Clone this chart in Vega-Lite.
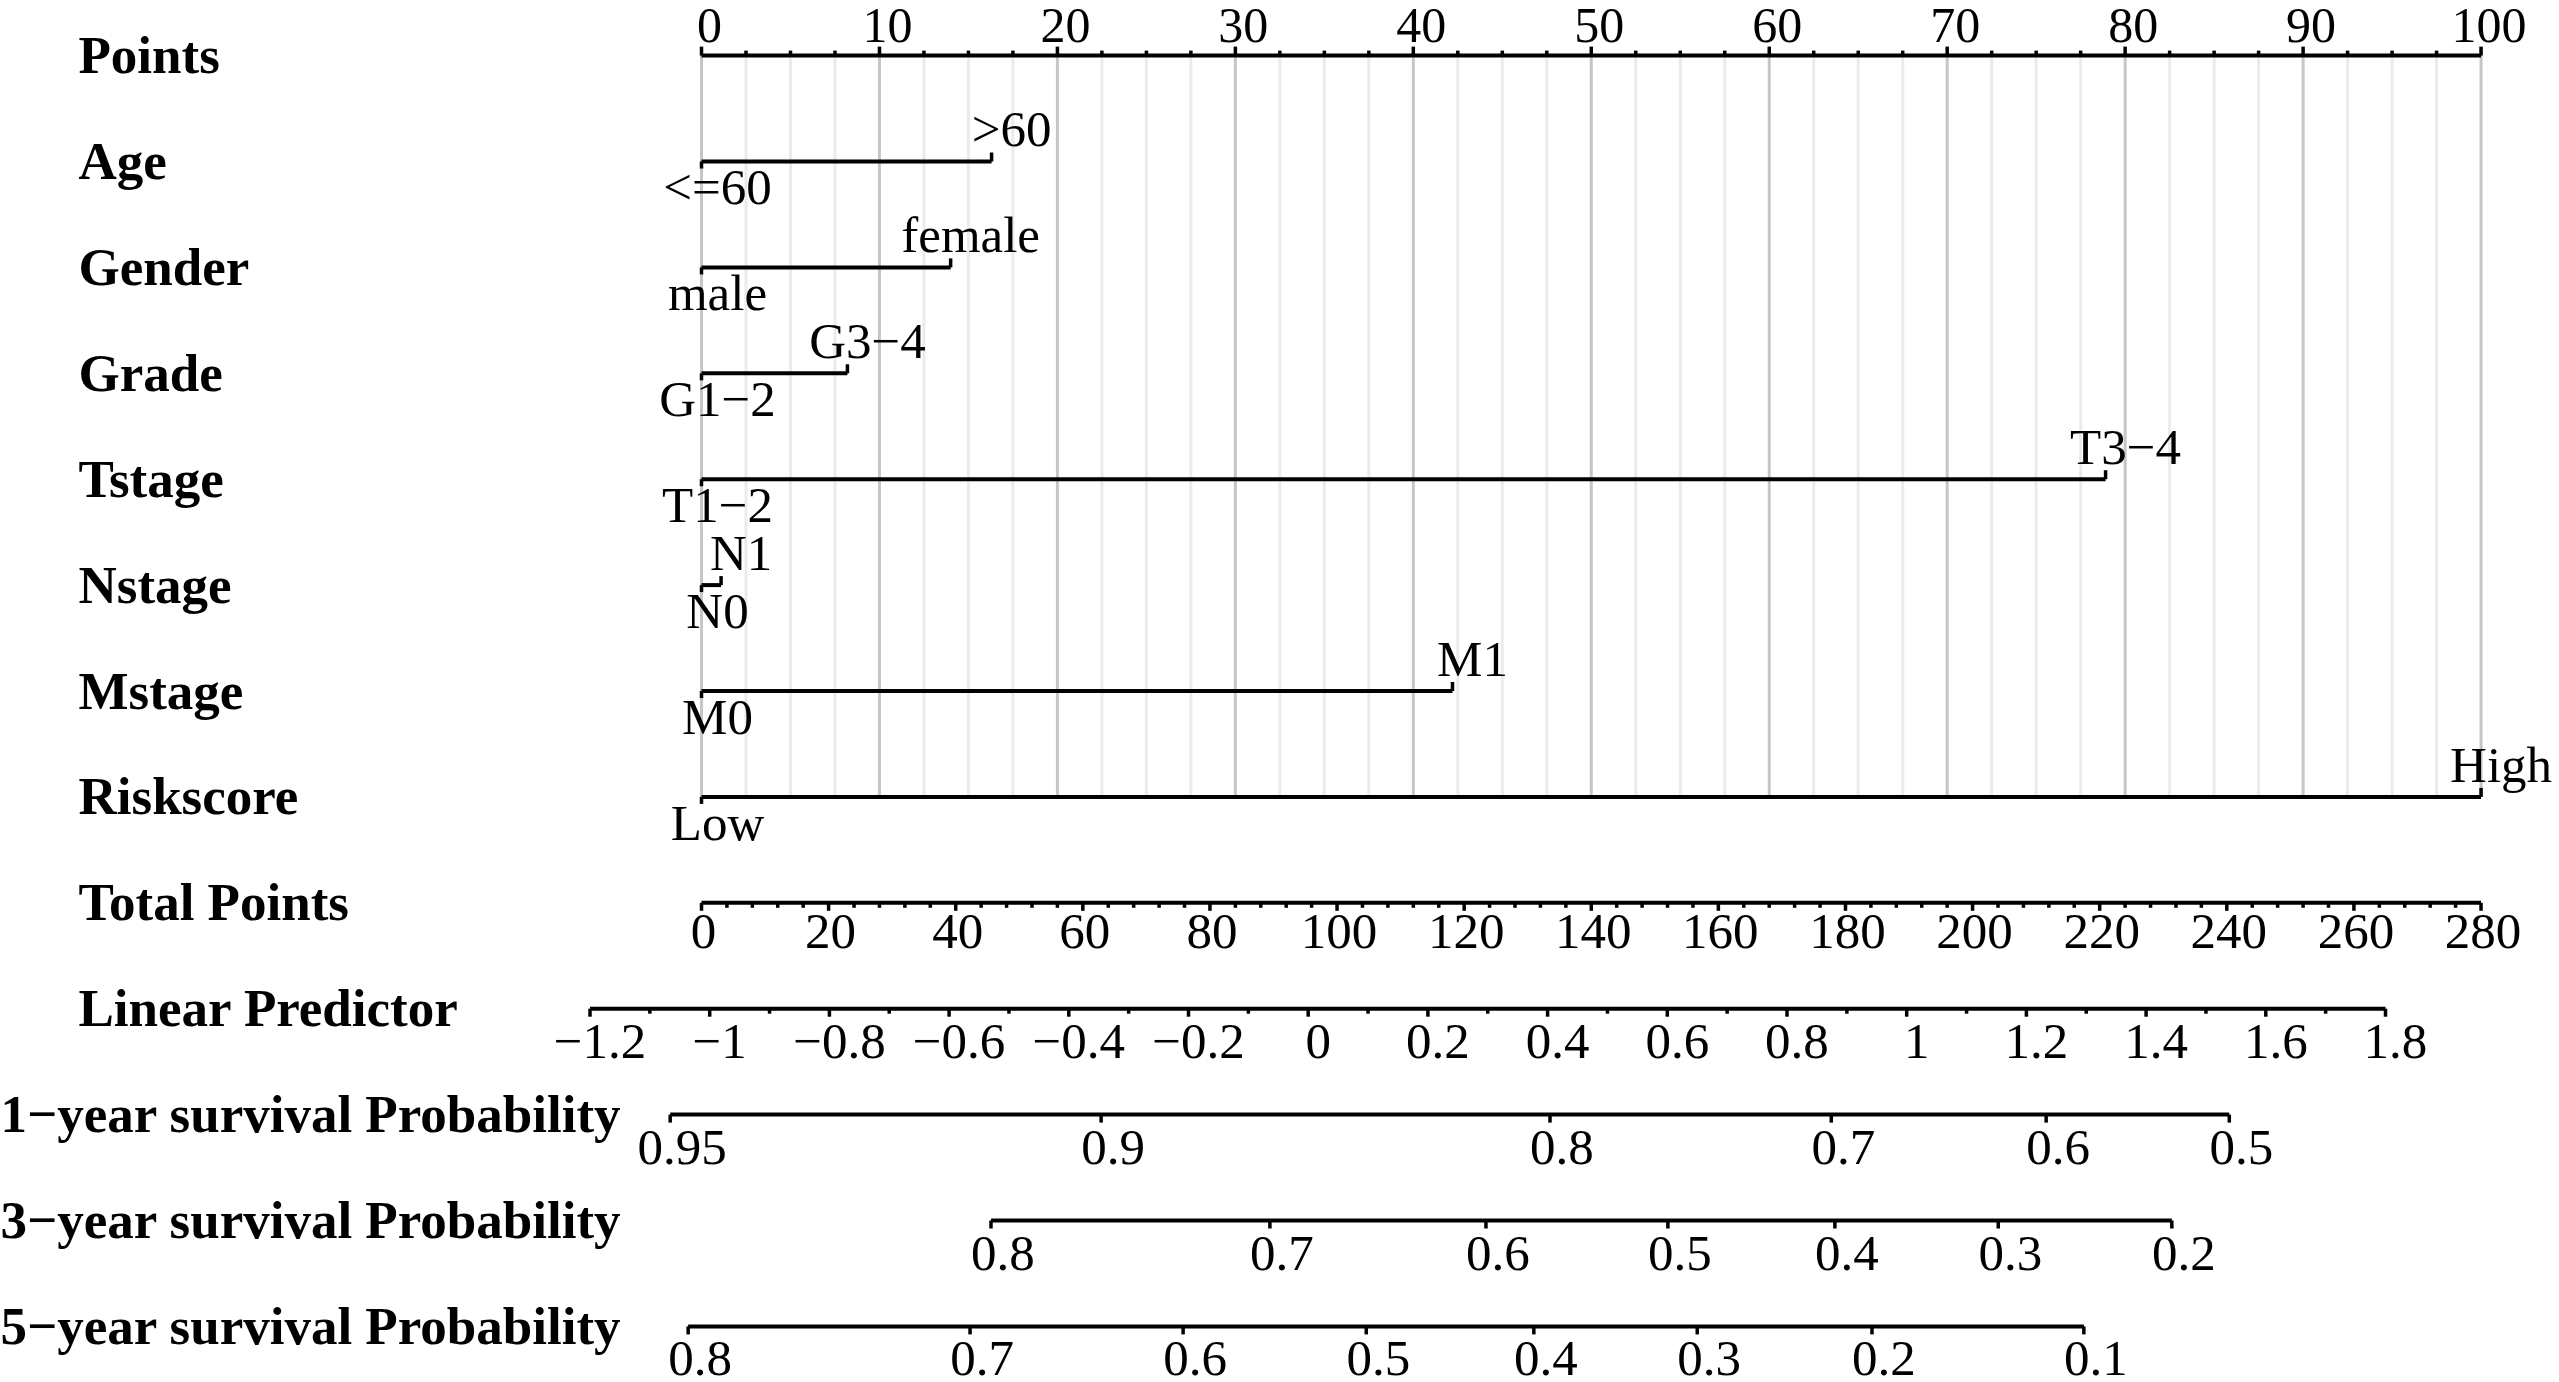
{
  "$schema": "https://vega.github.io/schema/vega-lite/v6.json",
  "width": 2559,
  "height": 1382,
  "autosize": {"type": "none"},
  "padding": 0,
  "background": "white",
  "config": {"view": {"stroke": null}, "font": "Liberation Serif"},
  "datasets": {
    "pointsTicks": [
      {"p": 0}, {"p": 2.5}, {"p": 5}, {"p": 7.5}, {"p": 10}, {"p": 12.5}, {"p": 15}, {"p": 17.5}, {"p": 20}, {"p": 22.5},
      {"p": 25}, {"p": 27.5}, {"p": 30}, {"p": 32.5}, {"p": 35}, {"p": 37.5}, {"p": 40}, {"p": 42.5}, {"p": 45}, {"p": 47.5},
      {"p": 50}, {"p": 52.5}, {"p": 55}, {"p": 57.5}, {"p": 60}, {"p": 62.5}, {"p": 65}, {"p": 67.5}, {"p": 70}, {"p": 72.5},
      {"p": 75}, {"p": 77.5}, {"p": 80}, {"p": 82.5}, {"p": 85}, {"p": 87.5}, {"p": 90}, {"p": 92.5}, {"p": 95}, {"p": 97.5},
      {"p": 100}
    ],
    "categories": [
      {"row": "Age", "level": "<=60", "pts": 0},
      {"row": "Age", "level": ">60", "pts": 16.3},
      {"row": "Gender", "level": "male", "pts": 0},
      {"row": "Gender", "level": "female", "pts": 14.0},
      {"row": "Grade", "level": "G1−2", "pts": 0},
      {"row": "Grade", "level": "G3−4", "pts": 8.2},
      {"row": "Tstage", "level": "T1−2", "pts": 0},
      {"row": "Tstage", "level": "T3−4", "pts": 78.9},
      {"row": "Nstage", "level": "N0", "pts": 0},
      {"row": "Nstage", "level": "N1", "pts": 1.1},
      {"row": "Mstage", "level": "M0", "pts": 0},
      {"row": "Mstage", "level": "M1", "pts": 42.2},
      {"row": "Riskscore", "level": "Low", "pts": 0},
      {"row": "Riskscore", "level": "High", "pts": 100}
    ],
    "tpTicks": [
      {"t": 0}, {"t": 4}, {"t": 8}, {"t": 12}, {"t": 16}, {"t": 20}, {"t": 24}, {"t": 28}, {"t": 32}, {"t": 36},
      {"t": 40}, {"t": 44}, {"t": 48}, {"t": 52}, {"t": 56}, {"t": 60}, {"t": 64}, {"t": 68}, {"t": 72}, {"t": 76},
      {"t": 80}, {"t": 84}, {"t": 88}, {"t": 92}, {"t": 96}, {"t": 100}, {"t": 104}, {"t": 108}, {"t": 112}, {"t": 116},
      {"t": 120}, {"t": 124}, {"t": 128}, {"t": 132}, {"t": 136}, {"t": 140}, {"t": 144}, {"t": 148}, {"t": 152}, {"t": 156},
      {"t": 160}, {"t": 164}, {"t": 168}, {"t": 172}, {"t": 176}, {"t": 180}, {"t": 184}, {"t": 188}, {"t": 192}, {"t": 196},
      {"t": 200}, {"t": 204}, {"t": 208}, {"t": 212}, {"t": 216}, {"t": 220}, {"t": 224}, {"t": 228}, {"t": 232}, {"t": 236},
      {"t": 240}, {"t": 244}, {"t": 248}, {"t": 252}, {"t": 256}, {"t": 260}, {"t": 264}, {"t": 268}, {"t": 272}, {"t": 276},
      {"t": 280}
    ],
    "lpTicks": [
      {"lp": -1.2}, {"lp": -1.1}, {"lp": -1}, {"lp": -0.9}, {"lp": -0.8}, {"lp": -0.7}, {"lp": -0.6}, {"lp": -0.5},
      {"lp": -0.4}, {"lp": -0.3}, {"lp": -0.2}, {"lp": -0.1}, {"lp": 0}, {"lp": 0.1}, {"lp": 0.2}, {"lp": 0.3},
      {"lp": 0.4}, {"lp": 0.5}, {"lp": 0.6}, {"lp": 0.7}, {"lp": 0.8}, {"lp": 0.9}, {"lp": 1}, {"lp": 1.1},
      {"lp": 1.2}, {"lp": 1.3}, {"lp": 1.4}, {"lp": 1.5}, {"lp": 1.6}, {"lp": 1.7}, {"lp": 1.8}
    ],
    "survival": [
      {"row": "1−year survival Probability", "prob": 0.95, "lp": -1.066},
      {"row": "1−year survival Probability", "prob": 0.9, "lp": -0.346},
      {"row": "1−year survival Probability", "prob": 0.8, "lp": 0.404},
      {"row": "1−year survival Probability", "prob": 0.7, "lp": 0.874},
      {"row": "1−year survival Probability", "prob": 0.6, "lp": 1.233},
      {"row": "1−year survival Probability", "prob": 0.5, "lp": 1.539},
      {"row": "3−year survival Probability", "prob": 0.8, "lp": -0.53},
      {"row": "3−year survival Probability", "prob": 0.7, "lp": -0.064},
      {"row": "3−year survival Probability", "prob": 0.6, "lp": 0.297},
      {"row": "3−year survival Probability", "prob": 0.5, "lp": 0.601},
      {"row": "3−year survival Probability", "prob": 0.4, "lp": 0.88},
      {"row": "3−year survival Probability", "prob": 0.3, "lp": 1.153},
      {"row": "3−year survival Probability", "prob": 0.2, "lp": 1.443},
      {"row": "5−year survival Probability", "prob": 0.8, "lp": -1.036},
      {"row": "5−year survival Probability", "prob": 0.7, "lp": -0.565},
      {"row": "5−year survival Probability", "prob": 0.6, "lp": -0.209},
      {"row": "5−year survival Probability", "prob": 0.5, "lp": 0.097},
      {"row": "5−year survival Probability", "prob": 0.4, "lp": 0.377},
      {"row": "5−year survival Probability", "prob": 0.3, "lp": 0.65},
      {"row": "5−year survival Probability", "prob": 0.2, "lp": 0.942},
      {"row": "5−year survival Probability", "prob": 0.1, "lp": 1.296}
    ]
  },
  "resolve": {"scale": {"x": "independent"}},
  "layer": [
    {
      "layer": [
        {
          "data": {"name": "pointsTicks"},
          "mark": {"type": "rule", "strokeWidth": 3},
          "encoding": {
            "x": {"field": "p", "type": "quantitative", "scale": {"domain": [-39.42, 104.38], "nice": false, "zero": false}, "axis": null},
            "y": {
              "datum": "Points", "type": "nominal",
              "scale": {"type": "point", "padding": 0.525, "domain": ["Points", "Age", "Gender", "Grade", "Tstage", "Nstage", "Mstage", "Riskscore", "Total Points", "Linear Predictor", "1−year survival Probability", "3−year survival Probability", "5−year survival Probability"]},
              "axis": {
                "orient": "left", "title": null, "domain": false, "ticks": false, "grid": false,
                "labelAlign": "left", "labelBaseline": "alphabetic", "labelOffset": 17,
                "labelFont": "Liberation Serif", "labelFontSize": 53, "labelFontWeight": "bold", "labelColor": "black",
                "labelLimit": 3000, "labelOverlap": false,
                "labelPadding": {"condition": {"test": "length(datum.label) > 20", "value": 0}, "value": -78}
              }
            },
            "y2": {"datum": "Riskscore"},
            "color": {"condition": {"test": "datum.p % 10 === 0", "value": "#c6c6c6"}, "value": "#ebebeb"}
          }
        },
        {
          "data": {"name": "pointsTicks"},
          "mark": {"type": "rule", "strokeWidth": 4, "color": "black"},
          "encoding": {
            "x": {"aggregate": "min", "field": "p", "type": "quantitative", "scale": {"domain": [-39.42, 104.38], "nice": false, "zero": false}, "axis": null},
            "x2": {"aggregate": "max", "field": "p"},
            "y": {"datum": "Points", "type": "nominal"}
          }
        },
        {
          "data": {"name": "pointsTicks"},
          "transform": [{"filter": "datum.p % 10 === 0"}],
          "mark": {"type": "tick", "orient": "vertical", "size": 9, "thickness": 3.5, "yOffset": -4.5, "color": "black", "opacity": 1},
          "encoding": {
            "x": {"field": "p", "type": "quantitative", "scale": {"domain": [-39.42, 104.38], "nice": false, "zero": false}, "axis": null},
            "y": {"datum": "Points", "type": "nominal"}
          }
        },
        {
          "data": {"name": "pointsTicks"},
          "transform": [{"filter": "datum.p % 10 !== 0"}],
          "mark": {"type": "tick", "orient": "vertical", "size": 5, "thickness": 3.5, "yOffset": -2.5, "color": "black", "opacity": 1},
          "encoding": {
            "x": {"field": "p", "type": "quantitative", "scale": {"domain": [-39.42, 104.38], "nice": false, "zero": false}, "axis": null},
            "y": {"datum": "Points", "type": "nominal"}
          }
        },
        {
          "data": {"name": "pointsTicks"},
          "transform": [{"filter": "datum.p % 10 === 0"}],
          "mark": {"type": "text", "font": "Liberation Serif", "fontSize": 50, "align": "center", "baseline": "alphabetic", "dy": -14, "dx": 8, "color": "black"},
          "encoding": {
            "x": {"field": "p", "type": "quantitative", "scale": {"domain": [-39.42, 104.38], "nice": false, "zero": false}, "axis": null},
            "y": {"datum": "Points", "type": "nominal"},
            "text": {"field": "p", "type": "quantitative"}
          }
        },
        {
          "data": {"name": "categories"},
          "mark": {"type": "rule", "strokeWidth": 4, "color": "black"},
          "encoding": {
            "x": {"aggregate": "min", "field": "pts", "type": "quantitative", "scale": {"domain": [-39.42, 104.38], "nice": false, "zero": false}, "axis": null},
            "x2": {"aggregate": "max", "field": "pts"},
            "y": {"field": "row", "type": "nominal"}
          }
        },
        {
          "data": {"name": "categories"},
          "transform": [{"filter": "datum.pts > 0"}],
          "mark": {"type": "tick", "orient": "vertical", "size": 9, "thickness": 3.5, "yOffset": -4.5, "color": "black", "opacity": 1},
          "encoding": {
            "x": {"field": "pts", "type": "quantitative", "scale": {"domain": [-39.42, 104.38], "nice": false, "zero": false}, "axis": null},
            "y": {"field": "row", "type": "nominal"}
          }
        },
        {
          "data": {"name": "categories"},
          "transform": [{"filter": "datum.pts === 0"}],
          "mark": {"type": "tick", "orient": "vertical", "size": 7, "thickness": 3.5, "yOffset": 3.5, "color": "black", "opacity": 1},
          "encoding": {
            "x": {"field": "pts", "type": "quantitative", "scale": {"domain": [-39.42, 104.38], "nice": false, "zero": false}, "axis": null},
            "y": {"field": "row", "type": "nominal"}
          }
        },
        {
          "data": {"name": "categories"},
          "transform": [{"filter": "datum.pts > 0"}],
          "mark": {"type": "text", "font": "Liberation Serif", "fontSize": 51, "align": "center", "baseline": "alphabetic", "dy": -15, "dx": 20, "color": "black"},
          "encoding": {
            "x": {"field": "pts", "type": "quantitative", "scale": {"domain": [-39.42, 104.38], "nice": false, "zero": false}, "axis": null},
            "y": {"field": "row", "type": "nominal"},
            "text": {"field": "level", "type": "nominal"}
          }
        },
        {
          "data": {"name": "categories"},
          "transform": [{"filter": "datum.pts === 0"}],
          "mark": {"type": "text", "font": "Liberation Serif", "fontSize": 51, "align": "center", "baseline": "alphabetic", "dy": 43, "dx": 16, "color": "black"},
          "encoding": {
            "x": {"field": "pts", "type": "quantitative", "scale": {"domain": [-39.42, 104.38], "nice": false, "zero": false}, "axis": null},
            "y": {"field": "row", "type": "nominal"},
            "text": {"field": "level", "type": "nominal"}
          }
        }
      ]
    },
    {
      "layer": [
        {
          "data": {"name": "tpTicks"},
          "mark": {"type": "rule", "strokeWidth": 4, "color": "black"},
          "encoding": {
            "x": {"aggregate": "min", "field": "t", "type": "quantitative", "scale": {"domain": [-110.38, 292.27], "nice": false, "zero": false}, "axis": null},
            "x2": {"aggregate": "max", "field": "t"},
            "y": {"datum": "Total Points", "type": "nominal"}
          }
        },
        {
          "data": {"name": "tpTicks"},
          "transform": [{"filter": "datum.t % 20 === 0"}],
          "mark": {"type": "tick", "orient": "vertical", "size": 8, "thickness": 3.5, "yOffset": 4, "color": "black", "opacity": 1},
          "encoding": {
            "x": {"field": "t", "type": "quantitative", "scale": {"domain": [-110.38, 292.27], "nice": false, "zero": false}, "axis": null},
            "y": {"datum": "Total Points", "type": "nominal"}
          }
        },
        {
          "data": {"name": "tpTicks"},
          "transform": [{"filter": "datum.t % 20 !== 0"}],
          "mark": {"type": "tick", "orient": "vertical", "size": 5, "thickness": 3.5, "yOffset": 2.5, "color": "black", "opacity": 1},
          "encoding": {
            "x": {"field": "t", "type": "quantitative", "scale": {"domain": [-110.38, 292.27], "nice": false, "zero": false}, "axis": null},
            "y": {"datum": "Total Points", "type": "nominal"}
          }
        },
        {
          "data": {"name": "tpTicks"},
          "transform": [{"filter": "datum.t % 20 === 0"}],
          "mark": {"type": "text", "font": "Liberation Serif", "fontSize": 51, "align": "center", "baseline": "alphabetic", "dy": 45, "dx": 2, "color": "black"},
          "encoding": {
            "x": {"field": "t", "type": "quantitative", "scale": {"domain": [-110.38, 292.27], "nice": false, "zero": false}, "axis": null},
            "y": {"datum": "Total Points", "type": "nominal"},
            "text": {"field": "t", "type": "quantitative"}
          }
        }
      ]
    },
    {
      "layer": [
        {
          "data": {"name": "lpTicks"},
          "mark": {"type": "rule", "strokeWidth": 4, "color": "black"},
          "encoding": {
            "x": {"aggregate": "min", "field": "lp", "type": "quantitative", "scale": {"domain": [-2.1858, 2.0899], "nice": false, "zero": false}, "axis": null},
            "x2": {"aggregate": "max", "field": "lp"},
            "y": {"datum": "Linear Predictor", "type": "nominal"}
          }
        },
        {
          "data": {"name": "lpTicks"},
          "transform": [{"filter": "abs(datum.lp * 5 - round(datum.lp * 5)) < 0.000001"}],
          "mark": {"type": "tick", "orient": "vertical", "size": 8, "thickness": 3.5, "yOffset": 4, "color": "black", "opacity": 1},
          "encoding": {
            "x": {"field": "lp", "type": "quantitative", "scale": {"domain": [-2.1858, 2.0899], "nice": false, "zero": false}, "axis": null},
            "y": {"datum": "Linear Predictor", "type": "nominal"}
          }
        },
        {
          "data": {"name": "lpTicks"},
          "transform": [{"filter": "abs(datum.lp * 5 - round(datum.lp * 5)) >= 0.000001"}],
          "mark": {"type": "tick", "orient": "vertical", "size": 5, "thickness": 3.5, "yOffset": 2.5, "color": "black", "opacity": 1},
          "encoding": {
            "x": {"field": "lp", "type": "quantitative", "scale": {"domain": [-2.1858, 2.0899], "nice": false, "zero": false}, "axis": null},
            "y": {"datum": "Linear Predictor", "type": "nominal"}
          }
        },
        {
          "data": {"name": "lpTicks"},
          "transform": [{"filter": "abs(datum.lp * 5 - round(datum.lp * 5)) < 0.000001"}],
          "mark": {"type": "text", "font": "Liberation Serif", "fontSize": 51, "align": "center", "baseline": "alphabetic", "dy": 49, "dx": 10, "color": "black"},
          "encoding": {
            "x": {"field": "lp", "type": "quantitative", "scale": {"domain": [-2.1858, 2.0899], "nice": false, "zero": false}, "axis": null},
            "y": {"datum": "Linear Predictor", "type": "nominal"},
            "text": {"field": "lp", "type": "quantitative"}
          }
        },
        {
          "data": {"name": "survival"},
          "mark": {"type": "rule", "strokeWidth": 4, "color": "black"},
          "encoding": {
            "x": {"aggregate": "min", "field": "lp", "type": "quantitative", "scale": {"domain": [-2.1858, 2.0899], "nice": false, "zero": false}, "axis": null},
            "x2": {"aggregate": "max", "field": "lp"},
            "y": {"field": "row", "type": "nominal"}
          }
        },
        {
          "data": {"name": "survival"},
          "mark": {"type": "tick", "orient": "vertical", "size": 8, "thickness": 3.5, "yOffset": 4, "color": "black", "opacity": 1},
          "encoding": {
            "x": {"field": "lp", "type": "quantitative", "scale": {"domain": [-2.1858, 2.0899], "nice": false, "zero": false}, "axis": null},
            "y": {"field": "row", "type": "nominal"}
          }
        },
        {
          "data": {"name": "survival"},
          "mark": {"type": "text", "font": "Liberation Serif", "fontSize": 51, "align": "center", "baseline": "alphabetic", "dy": 49, "dx": 12, "color": "black"},
          "encoding": {
            "x": {"field": "lp", "type": "quantitative", "scale": {"domain": [-2.1858, 2.0899], "nice": false, "zero": false}, "axis": null},
            "y": {"field": "row", "type": "nominal"},
            "text": {"field": "prob", "type": "quantitative"}
          }
        }
      ]
    }
  ]
}
